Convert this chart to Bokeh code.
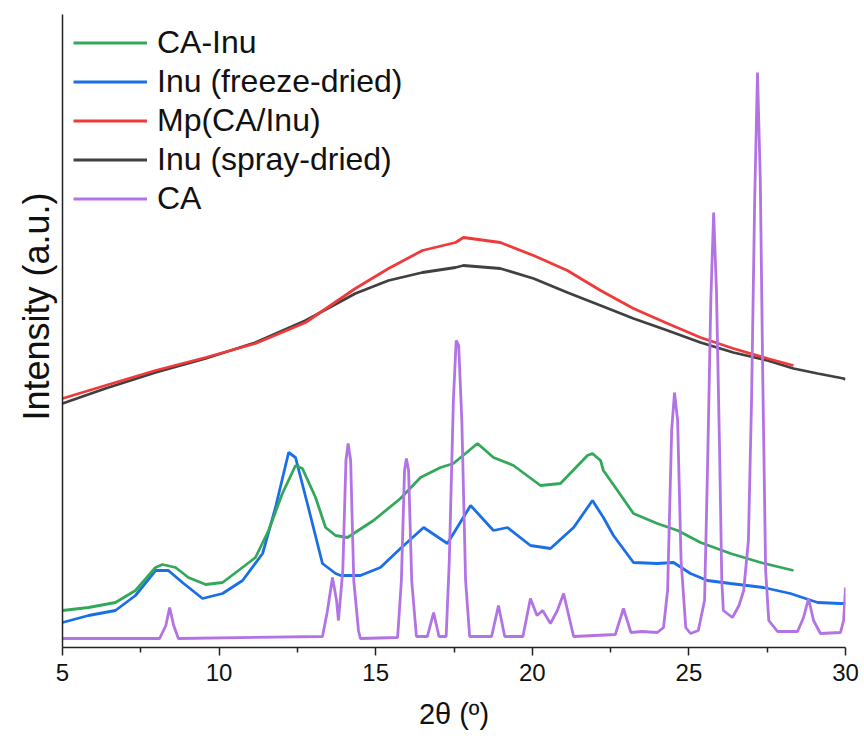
from bokeh.plotting import figure
from bokeh.models import Range1d, FixedTicker, Legend, LegendItem, Title
from bokeh.embed import file_html
from bokeh.resources import INLINE

# ---- data (2θ in degrees, intensity in arbitrary units) ----
tt_spray = [5.00, 6.37, 7.97, 9.57, 11.16, 12.76, 14.35, 15.41, 16.49, 17.55, 17.80, 18.98,
            20.04, 21.12, 22.18, 23.23, 24.32, 25.37, 26.42, 27.51, 28.34, 29.11, 29.94, 30.00]
i_spray = [244, 259, 275, 289, 305, 327, 354, 367, 375, 380, 382, 379,
           369, 355, 342, 329, 317, 305, 295, 287, 279, 274, 269, 268]

tt_mp = [5.00, 6.37, 7.97, 9.57, 11.16, 12.76, 14.35, 15.41, 16.49, 17.55, 17.80, 18.98,
         20.04, 21.12, 22.18, 23.23, 24.32, 25.37, 26.42, 27.51, 28.34]
i_mp = [249, 262, 277, 290, 304, 325, 359, 379, 397, 405, 410, 405,
        392, 377, 357, 339, 324, 310, 299, 289, 282]

tt_cainu = [5.00, 5.83, 6.69, 7.33, 7.97, 8.19, 8.61, 9.02, 9.57, 10.11, 10.62, 11.16, 11.58,
            12.02, 12.44, 12.66, 13.08, 13.40, 13.72, 14.10, 14.93, 15.79, 16.43, 17.07, 17.48,
            18.25, 18.76, 19.40, 20.26, 20.90, 21.76, 21.92, 22.18, 22.27, 22.72, 23.23, 23.99,
            24.64, 25.37, 26.33, 27.29, 28.34]
i_cainu = [37, 40, 45, 57, 80, 83, 80, 70, 63, 65, 77, 90, 117,
           154, 182, 179, 150, 120, 112, 110, 127, 149, 170, 180, 184,
           204, 190, 182, 162, 164, 192, 194, 187, 177, 157, 134, 124,
           117, 105, 94, 85, 77]

tt_fd = [5.00, 5.83, 6.69, 7.33, 7.97, 8.38, 8.83, 9.47, 10.11, 10.75, 11.39, 11.80, 12.22,
         12.44, 12.85, 13.30, 13.72, 13.88, 14.51, 15.15, 15.79, 16.53, 17.29, 18.03, 18.76,
         19.21, 19.94, 20.58, 21.32, 21.92, 22.27, 22.59, 23.23, 23.99, 24.51, 25.05, 25.59,
         26.33, 27.38, 28.24, 29.11, 29.84, 30.00]
i_fd = [25, 32, 37, 52, 77, 77, 65, 49, 54, 67, 94, 140, 195,
        190, 140, 84, 74, 72, 72, 80, 99, 120, 104, 142, 117,
        120, 102, 99, 120, 147, 130, 112, 85, 84, 85, 74, 67,
        64, 60, 54, 45, 44, 44]

tt_ca = [5.00, 8.10, 8.30, 8.42, 8.55, 8.70, 13.30, 13.45, 13.62, 13.75, 13.81, 13.95, 14.05,
         14.12, 14.20, 14.30, 14.45, 14.51, 15.70, 15.82, 15.92, 15.98, 16.05, 16.15, 16.30,
         16.65, 16.85, 17.02, 17.25, 17.35, 17.48, 17.57, 17.65, 17.75, 17.87, 18.00, 18.70,
         18.92, 19.12, 19.70, 19.94, 20.15, 20.33, 20.58, 20.80, 21.00, 21.20, 21.32, 22.65,
         22.91, 23.15, 23.50, 23.99, 24.19, 24.32, 24.45, 24.54, 24.64, 24.75, 24.90, 25.05,
         25.30, 25.50, 25.60, 25.70, 25.79, 25.88, 25.98, 26.05, 26.10, 26.39, 26.60, 26.75,
         26.90, 27.00, 27.10, 27.19, 27.28, 27.36, 27.45, 27.55, 27.83, 28.47, 28.66, 28.82,
         28.98, 29.20, 29.84, 29.94, 30.00]
i_ca = [9, 9, 22, 40, 22, 9, 11, 35, 70, 47, 27, 77, 187,
        204, 187, 67, 17, 9, 10, 67, 177, 189, 177, 67, 11,
        11, 35, 11, 11, 87, 247, 307, 302, 227, 67, 11, 11,
        42, 11, 11, 49, 32, 37, 24, 37, 54, 27, 11, 13,
        39, 15, 16, 15, 20, 57, 217, 255, 227, 87, 20, 14,
        17, 47, 187, 347, 435, 357, 197, 67, 37, 30, 42, 57,
        107, 247, 447, 575, 467, 267, 77, 27, 16, 16, 30, 49,
        27, 14, 15, 27, 60]

x_ticks = [5, 10, 15, 20, 25, 30]
x_minor = [7.5, 12.5, 17.5, 22.5, 27.5]

labels = ["CA-Inu", "Inu (freeze-dried)", "Mp(CA/Inu)", "Inu (spray-dried)", "CA"]
colors = {"CA-Inu": "#34a85a", "Inu (freeze-dried)": "#1a6fe6", "Mp(CA/Inu)": "#f03a3a",
          "Inu (spray-dried)": "#404040", "CA": "#b274e4"}

FONT = "Liberation Sans"
LW = 2.8

p = figure(width=860, height=740, output_backend="svg", toolbar_location=None,
           x_range=Range1d(5, 30), y_range=Range1d(0, 633),
           min_border_left=62, min_border_right=15, min_border_top=14, min_border_bottom=93)
p.outline_line_color = None
p.grid.visible = False

r_spray = p.line(tt_spray, i_spray, line_color=colors["Inu (spray-dried)"], line_width=LW)
r_mp = p.line(tt_mp, i_mp, line_color=colors["Mp(CA/Inu)"], line_width=LW)
r_fd = p.line(tt_fd, i_fd, line_color=colors["Inu (freeze-dried)"], line_width=LW)
r_cainu = p.line(tt_cainu, i_cainu, line_color=colors["CA-Inu"], line_width=LW)
r_ca = p.line(tt_ca, i_ca, line_color=colors["CA"], line_width=LW)

# x axis
xa = p.xaxis[0]
xa.ticker = FixedTicker(ticks=x_ticks, minor_ticks=x_minor)
xa.major_tick_in = 0
xa.major_tick_out = 8
xa.minor_tick_in = 0
xa.minor_tick_out = 5
xa.axis_line_width = 1.5
xa.axis_line_color = "#222222"
xa.major_tick_line_color = "#222222"
xa.minor_tick_line_color = "#222222"
xa.major_tick_line_width = 1.5
xa.minor_tick_line_width = 1.5
xa.major_label_text_font = FONT
xa.major_label_text_font_size = "24px"
xa.major_label_text_color = "#111111"
xa.major_label_standoff = 8
xa.axis_label = "2θ (º)"
xa.axis_label_text_font = FONT
xa.axis_label_text_font_size = "29px"
xa.axis_label_text_font_style = "normal"
xa.axis_label_text_color = "#111111"
xa.axis_label_standoff = 14

# y axis (spine only)
ya = p.yaxis[0]
ya.ticker = FixedTicker(ticks=[])
ya.major_tick_line_color = None
ya.minor_tick_line_color = None
ya.major_label_text_alpha = 0
ya.axis_line_width = 1.5
ya.axis_line_color = "#222222"

ytitle = Title(text="Intensity (a.u.)", align="left", offset=227, standoff=8,
               vertical_align="top",
               text_font=FONT, text_font_size="36px", text_font_style="normal",
               text_color="#111111")
p.add_layout(ytitle, "left")

rmap = {"CA-Inu": r_cainu, "Inu (freeze-dried)": r_fd, "Mp(CA/Inu)": r_mp,
        "Inu (spray-dried)": r_spray, "CA": r_ca}
legend = Legend(items=[LegendItem(label=l, renderers=[rmap[l]]) for l in labels],
                location=(11, 429), border_line_color=None, background_fill_alpha=0,
                padding=0, margin=0, spacing=0, glyph_width=74, glyph_height=39,
                label_height=39, label_standoff=10,
                label_text_font=FONT, label_text_font_size="32px",
                label_text_color="#111111")
p.add_layout(legend)

open("out.html", "w").write(file_html(p, INLINE))
